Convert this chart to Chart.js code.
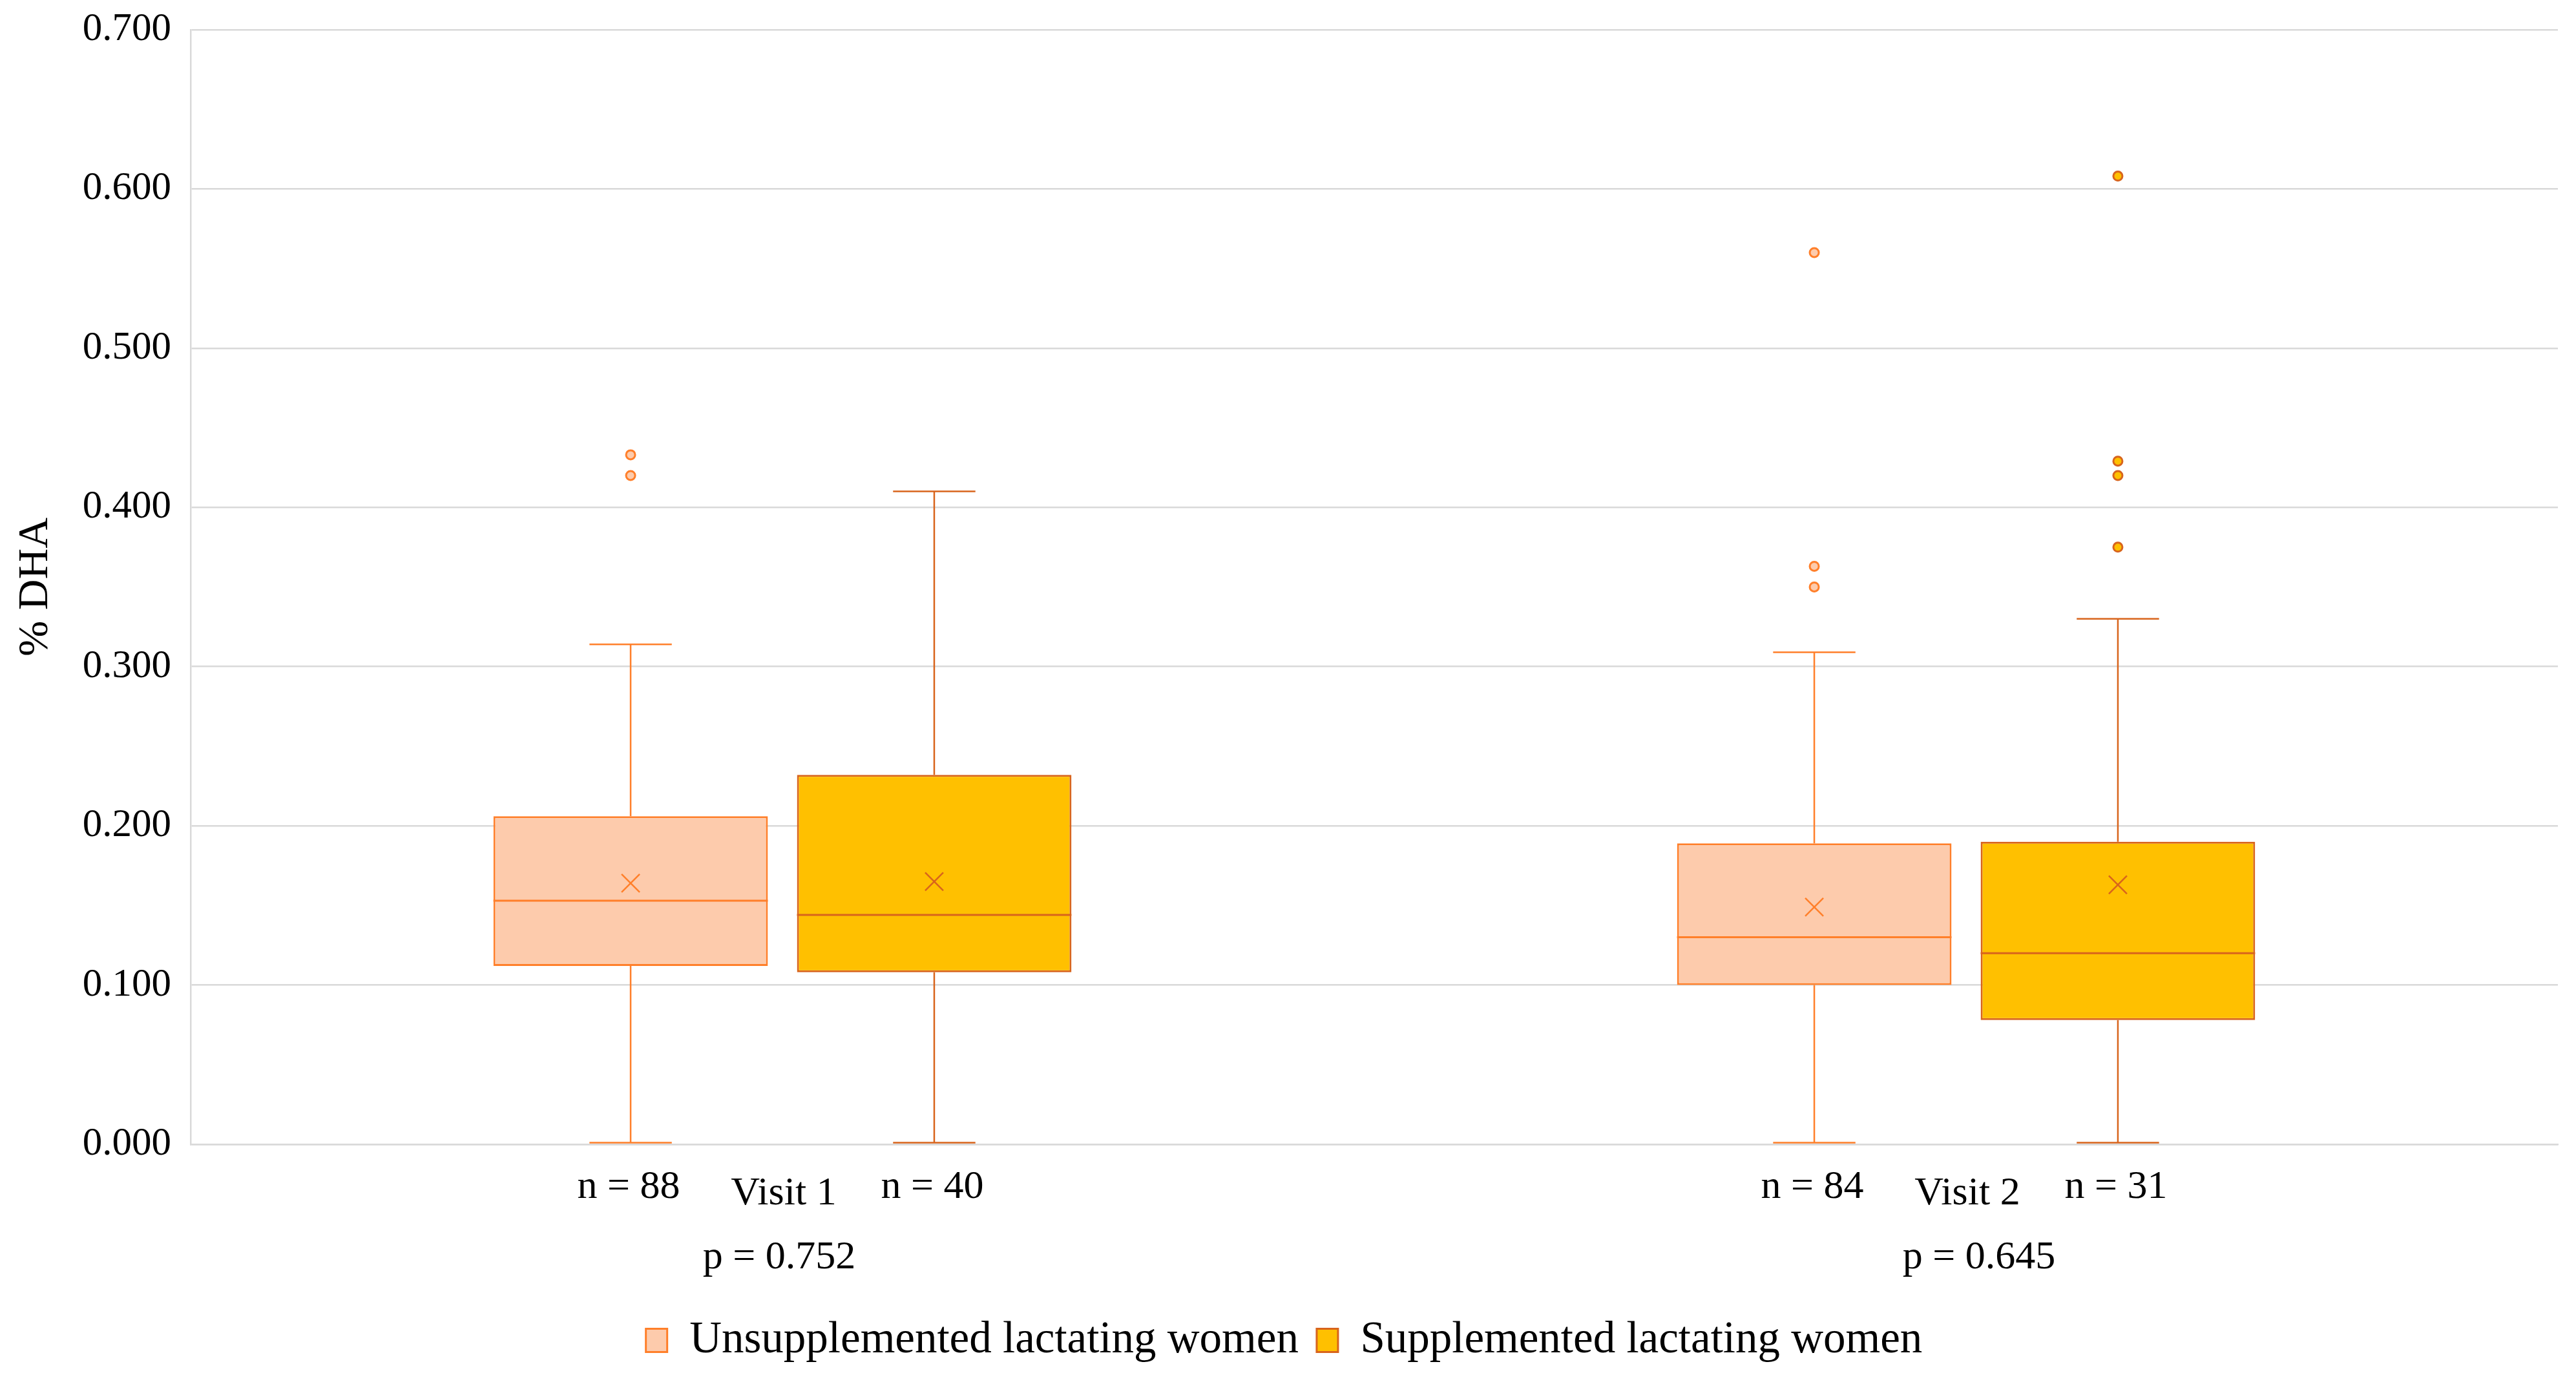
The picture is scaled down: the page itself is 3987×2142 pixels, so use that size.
<!DOCTYPE html>
<html>
<head>
<meta charset="utf-8">
<script src="https://cdn.jsdelivr.net/npm/chart.js@4.4.0/dist/chart.umd.min.js"></script>
<style>
html, body { margin: 0; padding: 0; background: #fff; }
canvas { display: block; }
</style>
</head>
<body>
<canvas id="dha_chart" width="3987" height="2142"></canvas>
<script>
// categories + labels
var visits = ['Visit 1', 'Visit 2'];
var pLabels = ['p = 0.752', 'p = 0.645'];
var seriesNames = ['Unsupplemented lactating women', 'Supplemented lactating women'];
var yTicks = [0, 0.1, 0.2, 0.3, 0.4, 0.5, 0.6, 0.7];

// unsupplemented group
var unsuppN = [88, 84];
var unsuppMin = [0.001, 0.001];
var unsuppQ1 = [0.112, 0.100];
var unsuppMedian = [0.153, 0.130];
var unsuppQ3 = [0.206, 0.189];
var unsuppMax = [0.314, 0.309];
var unsuppMean = [0.164, 0.149];
var unsuppOutliers = [[0.433, 0.420], [0.560, 0.363, 0.350]];

// supplemented group
var suppN = [40, 31];
var suppMin = [0.001, 0.001];
var suppQ1 = [0.108, 0.078];
var suppMedian = [0.144, 0.120];
var suppQ3 = [0.232, 0.190];
var suppMax = [0.410, 0.330];
var suppMean = [0.165, 0.163];
var suppOutliers = [[], [0.608, 0.429, 0.420, 0.375]];

var FONT = '"Liberation Serif", "Times New Roman", serif';
var pShift = [-5, 20];  // p labels are not quite centred in the original

function boxRange(q1, q3) {
	return q1.map(function(v, i) { return [v, q3[i]]; });
}

var extras = [
	{ n: unsuppN, min: unsuppMin, median: unsuppMedian, max: unsuppMax, mean: unsuppMean, outliers: unsuppOutliers,
	  line: '#FF7F2A', fill: '#FDCBAC' },
	{ n: suppN, min: suppMin, median: suppMedian, max: suppMax, mean: suppMean, outliers: suppOutliers,
	  line: '#D8641C', fill: '#FFC000' }
];

function seg(ctx, x1, y1, x2, y2) {
	ctx.beginPath();
	ctx.moveTo(x1, y1);
	ctx.lineTo(x2, y2);
	ctx.stroke();
}

// whiskers, medians, means, outliers and the texts under the axis
var boxPlugin = {
	id: 'boxExtras',
	afterDatasetsDraw: function(chart) {
		var ctx = chart.ctx, ys = chart.scales.y;
		extras.forEach(function(s, di) {
			var meta = chart.getDatasetMeta(di);
			var q1 = di === 0 ? unsuppQ1 : suppQ1;
			var q3 = di === 0 ? unsuppQ3 : suppQ3;
			meta.data.forEach(function(bar, i) {
				var x = bar.x, half = bar.width / 2, cap = bar.width * 0.15;
				var yMax = ys.getPixelForValue(s.max[i]), yMin = ys.getPixelForValue(s.min[i]);
				var yQ3 = ys.getPixelForValue(q3[i]), yQ1 = ys.getPixelForValue(q1[i]);
				ctx.save();
				ctx.strokeStyle = s.line;
				ctx.lineWidth = 2.5;
				seg(ctx, x, yQ3, x, yMax);
				seg(ctx, x, yQ1, x, yMin);
				seg(ctx, x - cap, yMax, x + cap, yMax);
				seg(ctx, x - cap, yMin, x + cap, yMin);
				// median
				ctx.lineWidth = 3;
				var yMed = ys.getPixelForValue(s.median[i]);
				seg(ctx, x - half, yMed, x + half, yMed);
				// mean
				ctx.lineWidth = 2.5;
				var yMean = ys.getPixelForValue(s.mean[i]), m = 14;
				seg(ctx, x - m, yMean - m, x + m, yMean + m);
				seg(ctx, x - m, yMean + m, x + m, yMean - m);
				// outliers
				ctx.fillStyle = s.fill;
				ctx.lineWidth = 3;
				s.outliers[i].forEach(function(v) {
					ctx.beginPath();
					ctx.arc(x, ys.getPixelForValue(v), 7, 0, Math.PI * 2);
					ctx.fill();
					ctx.stroke();
				});
				ctx.restore();
			});
		});
	},
	afterDraw: function(chart) {
		var ctx = chart.ctx, xs = chart.scales.x, bottom = chart.chartArea.bottom;
		ctx.save();
		ctx.fillStyle = '#000';
		ctx.textAlign = 'center';
		ctx.textBaseline = 'middle';
		ctx.font = '62px ' + FONT;
		extras.forEach(function(s, di) {
			chart.getDatasetMeta(di).data.forEach(function(bar, i) {
				ctx.fillText('n = ' + s.n[i], bar.x - 3, bottom + 67);
			});
		});
		visits.forEach(function(v, i) {
			var cx = xs.getPixelForValue(i);
			ctx.fillText(v, cx + 2, bottom + 77);
			ctx.fillText(pLabels[i], cx + pShift[i], bottom + 176);
		});
		ctx.restore();
	}
};

var chart = new Chart(document.getElementById('dha_chart').getContext('2d'), {
	type: 'bar',
	data: {
		labels: visits,
		datasets: [
			{
				label: seriesNames[0],
				data: boxRange(unsuppQ1, unsuppQ3),
				backgroundColor: '#FDCBAC',
				borderColor: '#FF7F2A',
				borderWidth: 3,
				borderSkipped: false
			},
			{
				label: seriesNames[1],
				data: boxRange(suppQ1, suppQ3),
				backgroundColor: '#FFC000',
				borderColor: '#D8641C',
				borderWidth: 3,
				borderSkipped: false
			}
		]
	},
	options: {
		responsive: false,
		animation: false,
		devicePixelRatio: 1,
		categoryPercentage: 0.513,
		barPercentage: 0.904,
		layout: { padding: { left: 16, right: 28, top: 20, bottom: 23 } },
		plugins: {
			tooltip: { enabled: false },
			legend: {
				position: 'bottom',
				labels: {
					color: '#000',
					font: { family: FONT, size: 69 },
					boxWidth: 33,
					boxHeight: 36,
					padding: 28
				}
			}
		},
		scales: {
			x: {
				grid: { display: false },
				border: { color: '#d9d9d9', width: 2.5 },
				ticks: { display: false },
				afterFit: function(scale) { scale.height = 241; }
			},
			y: {
				min: 0,
				max: 0.7,
				afterBuildTicks: function(scale) {
					scale.ticks = yTicks.map(function(v) { return { value: v }; });
				},
				grid: { color: '#d9d9d9', lineWidth: 2.5, drawTicks: false },
				border: { color: '#d9d9d9', width: 2.5 },
				ticks: {
					color: '#000',
					padding: 30,
					font: { family: FONT, size: 61, lineHeight: 0.52 },
					callback: function(v) { return Number(v).toFixed(3); }
				},
				title: {
					display: true,
					text: '% DHA',
					color: '#000',
					font: { family: FONT, size: 66 },
					padding: 0
				},
				afterFit: function(scale) { scale.width = 279; }
			}
		}
	},
	plugins: [boxPlugin]
});
</script>
</body>
</html>
